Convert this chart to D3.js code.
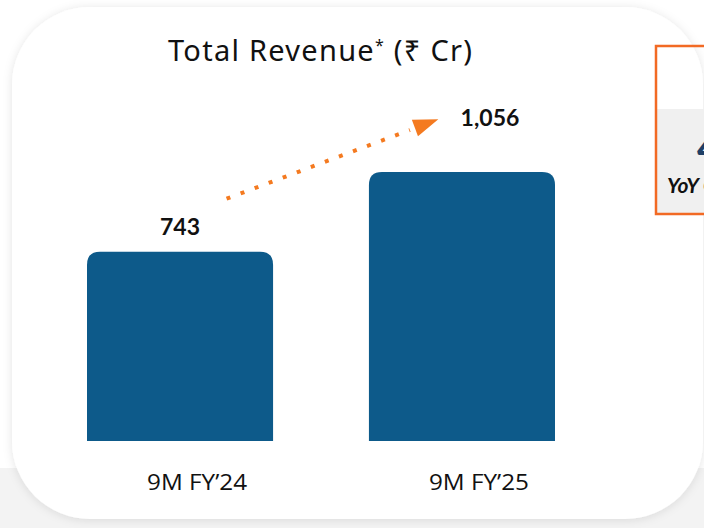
<!DOCTYPE html>
<html>
<head>
  <meta charset="UTF-8">
  <title>Total Revenue</title>
  <style>
    body { margin: 0; background: #fff; }
    svg { display: block; }
  </style>
</head>
<body>
<svg></svg>
<script src="https://d3js.org/d3.v7.min.js"></script>
<script>

let width = 704, height = 528;

// data
const periods = ["9M FY\u201924", "9M FY\u201925"];
const revenue = [743, 1056];
const valueLabels = ["743", "1,056"];
const yoyText = "42%";

let svg = d3.select("svg")
    .attr("width", width)
    .attr("height", height);

// shadow for the card
let defs = svg.append("defs");
defs.append("filter")
    .attr("id", "shadow")
    .attr("x", "-10%").attr("y", "-10%")
    .attr("width", "120%").attr("height", "120%")
  .append("feDropShadow")
    .attr("dx", 0).attr("dy", 1)
    .attr("stdDeviation", 5)
    .attr("flood-color", "#000")
    .attr("flood-opacity", 0.11);

// page background band
svg.append("rect")
    .attr("x", 0).attr("y", 468)
    .attr("width", width).attr("height", height - 468)
    .attr("fill", "#f3f3f3");

// card
svg.append("rect")
    .attr("x", 12).attr("y", 7)
    .attr("width", 691).attr("height", 512)
    .attr("rx", 78).attr("ry", 78)
    .attr("fill", "#fff")
    .attr("filter", "url(#shadow)");

// scales
let x = d3.scaleBand()
    .domain(periods)
    .range([87, 555])
    .paddingInner(0.34)
    .paddingOuter(0);

let y = d3.scaleLinear()
    .domain([0, 1056])
    .range([441, 172]);

// title
let title = svg.append("text")
    .attr("x", 320).attr("y", 61)
    .attr("text-anchor", "middle")
    .attr("textLength", 304)
    .attr("lengthAdjust", "spacing")
    .style("font-family", "'Noto Sans', 'DejaVu Sans', sans-serif")
    .style("font-size", "29px")
    .attr("fill", "#111");
title.append("tspan").text("Total Revenue");
title.append("tspan").attr("dy", -10).style("font-size", "16px").text("*");
title.append("tspan").attr("dy", 10).text(" (\u20b9 Cr)");

// bars: rounded top corners only
function barPath(x0, y0, w, h, r) {
  return "M" + x0 + "," + (y0 + h) +
    "V" + (y0 + r) +
    "Q" + x0 + "," + y0 + " " + (x0 + r) + "," + y0 +
    "H" + (x0 + w - r) +
    "Q" + (x0 + w) + "," + y0 + " " + (x0 + w) + "," + (y0 + r) +
    "V" + (y0 + h) + "Z";
}

let data = periods.map((p, i) => ({ period: p, value: revenue[i], label: valueLabels[i] }));

svg.append("g")
  .selectAll("path")
  .data(data)
  .enter()
  .append("path")
    .attr("d", d => barPath(x(d.period), y(d.value), x.bandwidth(), y(0) - y(d.value), 13))
    .attr("fill", "#0d5a8a");

// category labels
svg.append("g")
  .selectAll("text")
  .data(data)
  .enter()
  .append("text")
    .attr("x", d => x(d.period) + x.bandwidth() / 2 + 17)
    .attr("y", 490)
    .attr("text-anchor", "middle")
    .attr("textLength", 100)
    .attr("lengthAdjust", "spacingAndGlyphs")
    .style("font-family", "'Open Sans', 'Liberation Sans', sans-serif")
    .style("font-size", "22px")
    .attr("fill", "#111")
    .text(d => d.period);

// value labels (second one sits to the right of the arrow)
let labelShift = [0, 28], labelGap = [17, 46];
svg.append("g")
  .selectAll("text")
  .data(data)
  .enter()
  .append("text")
    .attr("x", (d, i) => x(d.period) + x.bandwidth() / 2 + labelShift[i])
    .attr("y", (d, i) => y(d.value) - labelGap[i])
    .attr("text-anchor", "middle")
    .style("font-family", "Lato, 'Noto Sans', sans-serif")
    .style("font-size", "23px")
    .style("font-weight", "bold")
    .attr("fill", "#111")
    .text(d => d.label);

// growth arrow between the two values
let ax0 = x(periods[0]) + x.bandwidth() * 0.75, ay0 = y(revenue[0]) - 53;
let ax1 = x(periods[1]) + 46, ay1 = y(revenue[1]) - 44;
svg.append("line")
    .attr("x1", ax0).attr("y1", ay0)
    .attr("x2", ax1 - 5).attr("y2", ay1 + 2)
    .attr("stroke", "#f47a20")
    .attr("stroke-width", 4)
    .attr("stroke-dasharray", "4,11");

let ang = Math.atan2(ay1 - ay0, ax1 - ax0) * 180 / Math.PI;
svg.append("path")
    .attr("d", "M0,-8.7L25,0L0,8.7Z")
    .attr("transform", "translate(" + ax1 + "," + ay1 + ") rotate(" + ang + ")")
    .attr("fill", "#f47a20");

// YoY box (cut by the right edge)
svg.append("rect")
    .attr("x", 655).attr("y", 109)
    .attr("width", 60).attr("height", 105)
    .attr("fill", "#f0f0f0");
svg.append("rect")
    .attr("x", 656).attr("y", 46)
    .attr("width", 60).attr("height", 168)
    .attr("fill", "none")
    .attr("stroke", "#f26a24")
    .attr("stroke-width", 2.5);
svg.append("text")
    .attr("x", 697).attr("y", 162)
    .style("font-family", "Lato, sans-serif")
    .style("font-size", "40px")
    .style("font-weight", "bold")
    .attr("fill", "#1f3f66")
    .text(yoyText);
svg.append("text")
    .attr("x", 667).attr("y", 193)
    .style("font-family", "Lato, sans-serif")
    .style("font-size", "21px")
    .style("font-weight", "bold")
    .style("font-style", "italic")
    .attr("fill", "#111")
    .text("YoY Growth");

</script>
</body>
</html>
